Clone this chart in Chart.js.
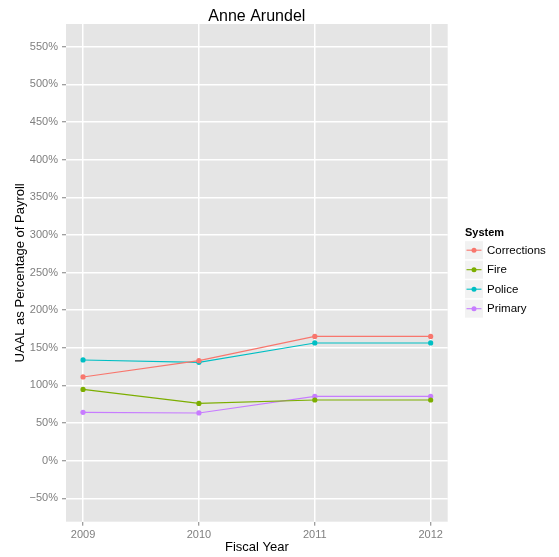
<!DOCTYPE html>
<html>
<head>
<meta charset="utf-8">
<title>Anne Arundel</title>
<script src="https://cdn.jsdelivr.net/npm/chart.js@4"></script>
<style>
  html, body { margin: 0; padding: 0; background: #fff; }
  #wrap { width: 559px; height: 557px; }
</style>
</head>
<body>
<div id="wrap"><canvas id="chart" width="559" height="557"></canvas></div>
<script>
// data
const years = [2009, 2010, 2011, 2012];
const systems = ['Corrections', 'Fire', 'Police', 'Primary'];
const corrections = [111.2, 132.9, 165.1, 165.1];
const fire = [94.7, 76.1, 80.6, 80.6];
const police = [133.8, 130.6, 156.4, 156.4];
const primary = [64.2, 63.4, 85.4, 85.4];
const yTicks = [-50, 0, 50, 100, 150, 200, 250, 300, 350, 400, 450, 500, 550];

const colors = ['#F8766D', '#7CAE00', '#00BFC4', '#C77CFF'];
const FONT = '"Liberation Sans", Arial, Helvetica, sans-serif';

const seriesValues = [corrections, fire, police, primary];

// grey panel behind the grid
const panelBg = {
  id: 'panelBg',
  beforeDraw(chart) {
    const { ctx, chartArea: a } = chart;
    ctx.save();
    ctx.fillStyle = '#E5E5E5';
    ctx.fillRect(a.left, a.top, a.right - a.left, a.bottom - a.top);
    ctx.restore();
  }
};

// title over the panel + ggplot style legend on the right
const extras = {
  id: 'extras',
  afterDraw(chart) {
    const { ctx, chartArea: a } = chart;
    ctx.save();
    ctx.fillStyle = '#000';
    ctx.font = '16px ' + FONT;
    ctx.textAlign = 'center';
    ctx.textBaseline = 'alphabetic';
    ctx.fillText('Anne Arundel', (a.left + a.right) / 2, 20.7);

    // legend
    const lx = 465;
    ctx.textAlign = 'left';
    ctx.font = 'bold 11px ' + FONT;
    ctx.fillText('System', lx, 235.7);

    ctx.font = '11.5px ' + FONT;
    ctx.textBaseline = 'middle';
    systems.forEach((name, i) => {
      const cy = 250.2 + i * 19.5;
      ctx.fillStyle = '#F2F2F2';
      ctx.fillRect(lx, cy - 9, 18, 18);
      ctx.strokeStyle = colors[i];
      ctx.lineWidth = 1.1;
      ctx.beginPath();
      ctx.moveTo(lx + 1.5, cy);
      ctx.lineTo(lx + 16.5, cy);
      ctx.stroke();
      ctx.fillStyle = colors[i];
      ctx.beginPath();
      ctx.arc(lx + 9, cy, 2.5, 0, Math.PI * 2);
      ctx.fill();
      ctx.fillStyle = '#000';
      ctx.fillText(name, 487, cy + 0.5);
    });
    ctx.restore();
  }
};

const datasets = systems.map((name, i) => ({
  label: name,
  data: years.map((y, j) => ({ x: y, y: seriesValues[i][j] })),
  borderColor: colors[i],
  backgroundColor: colors[i],
  borderWidth: 1.1,
  pointRadius: 2.6,
  pointBorderWidth: 0,
  pointBackgroundColor: colors[i],
  tension: 0
}));

new Chart(document.getElementById('chart'), {
  type: 'line',
  data: { datasets },
  plugins: [panelBg, extras],
  options: {
    responsive: false,
    animation: false,
    devicePixelRatio: 1,
    layout: { padding: { top: 24, right: 111.3, left: 0, bottom: 0 } },
    plugins: {
      legend: { display: false },
      title: { display: false },
      tooltip: { enabled: false }
    },
    scales: {
      x: {
        type: 'linear',
        position: 'bottom',
        min: 2008.853,
        max: 2012.147,
        afterFit: s => { s.height = 35.3; },
        afterBuildTicks: s => { s.ticks = years.map(v => ({ value: v })); },
        ticks: {
          font: { family: FONT, size: 11 },
          color: '#7F7F7F',
          padding: 3,
          maxRotation: 0,
          autoSkip: false,
          callback: v => String(v)
        },
        grid: {
          color: '#FFFFFF',
          lineWidth: 1.5,
          tickColor: '#7F7F7F',
          tickLength: 4,
          tickWidth: 1
        },
        border: { display: false },
        title: {
          display: true,
          text: 'Fiscal Year',
          color: '#000',
          font: { family: FONT, size: 13 },
          padding: { top: 0, bottom: 2.2 }
        }
      },
      y: {
        min: -81.1,
        max: 580.2,
        afterFit: s => { s.width = 66; },
        afterBuildTicks: s => { s.ticks = yTicks.map(v => ({ value: v })); },
        ticks: {
          font: { family: FONT, size: 11 },
          color: '#7F7F7F',
          padding: 4,
          callback: v => (v < 0 ? '\u2212' : '') + Math.abs(v) + '%'
        },
        grid: {
          color: '#FFFFFF',
          lineWidth: 1.5,
          tickColor: '#7F7F7F',
          tickLength: 4,
          tickWidth: 1
        },
        border: { display: false },
        title: {
          display: true,
          text: 'UAAL as Percentage of Payroll',
          color: '#000',
          font: { family: FONT, size: 13 },
          padding: { top: 12.2, bottom: 0 }
        }
      }
    }
  }
});
</script>
</body>
</html>
